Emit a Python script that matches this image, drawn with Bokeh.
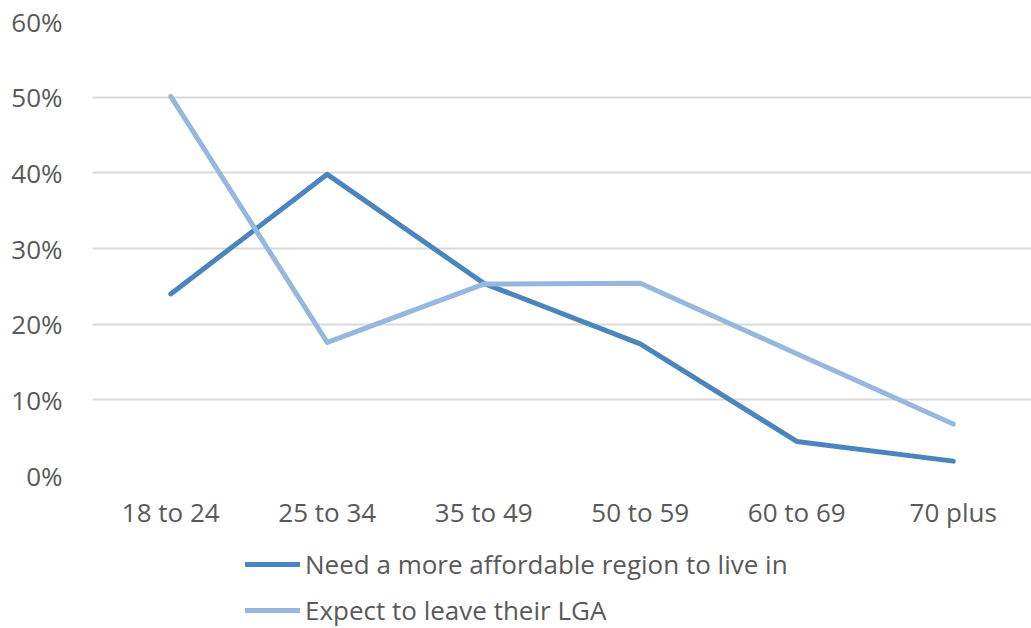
from bokeh.plotting import figure
from bokeh.layouts import column
from bokeh.models import ColumnDataSource, Legend, LegendItem, NumeralTickFormatter, FixedTicker
from bokeh.embed import file_html
from bokeh.resources import INLINE

categories = ["18 to 24", "25 to 34", "35 to 49", "50 to 59", "60 to 69", "70 plus"]
need_affordable = [0.240, 0.398, 0.254, 0.174, 0.045, 0.019]
expect_leave = [0.501, 0.176, 0.253, 0.254, 0.161, 0.068]
series_names = ["Need a more affordable region to live in", "Expect to leave their LGA"]
y_ticks = [0, 0.1, 0.2, 0.3, 0.4, 0.5, 0.6]

FONT = "Open Sans"
TXT = "#595959"
C1 = "#4A86BD"
C2 = "#96B8DF"

src = ColumnDataSource(dict(x=categories, a=need_affordable, b=expect_leave))

p = figure(x_range=categories, y_range=(0, 0.6), width=1031, height=545,
           output_backend="svg", toolbar_location=None,
           min_border_left=92, min_border_top=21, min_border_right=0, min_border_bottom=70)
p.outline_line_color = None

p.line("x", "a", source=src, line_color=C1, line_width=5, line_cap="round", line_join="round")
p.line("x", "b", source=src, line_color=C2, line_width=5, line_cap="round", line_join="round")

p.yaxis.ticker = FixedTicker(ticks=y_ticks)
p.yaxis.formatter = NumeralTickFormatter(format="0%")
for ax in (p.xaxis[0], p.yaxis[0]):
    ax.axis_line_color = None
    ax.major_tick_line_color = None
    ax.minor_tick_line_color = None
    ax.major_label_text_font = FONT
    ax.major_label_text_font_size = "26px"
    ax.major_label_text_color = TXT
p.yaxis.major_label_standoff = 24
p.xaxis.major_label_standoff = 12
p.xgrid.grid_line_color = None
p.ygrid.grid_line_color = "#D9D9D9"
p.ygrid.grid_line_width = 2

# legend strip below the chart (series drawn out of its visible range, only the legend shows)
q = figure(x_range=categories, y_range=(2, 3), width=1031, height=83,
           output_backend="svg", toolbar_location=None,
           x_axis_location=None, y_axis_location=None,
           min_border_left=92, min_border_top=0, min_border_right=0, min_border_bottom=0)
q.outline_line_color = None
q.grid.grid_line_color = None
l1 = q.line("x", "a", source=src, line_color=C1, line_width=5, line_cap="round")
l2 = q.line("x", "b", source=src, line_color=C2, line_width=5, line_cap="round")
legend = Legend(items=[LegendItem(label=series_names[0], renderers=[l1]),
                       LegendItem(label=series_names[1], renderers=[l2])],
                location=(153, 0), orientation="vertical",
                label_text_font=FONT, label_text_font_size="26px", label_text_color=TXT,
                glyph_width=55, glyph_height=36, label_height=36, label_standoff=5, spacing=10,
                padding=0, margin=0, border_line_color=None, background_fill_alpha=0)
q.add_layout(legend, "center")

layout = column(p, q, spacing=0)
open("out.html", "w").write(file_html(layout, INLINE))
